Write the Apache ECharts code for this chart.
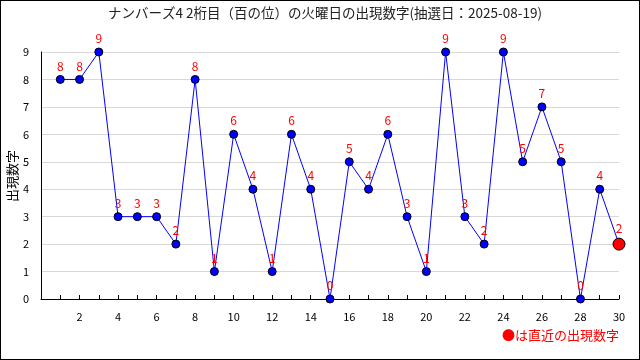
<!DOCTYPE html>
<html><head><meta charset="utf-8">
<script src="https://cdn.jsdelivr.net/npm/echarts@6/dist/echarts.min.js"></script>
<style>html,body{margin:0;padding:0;background:#fff}#c{width:640px;height:360px;box-sizing:border-box;border:1px solid #000}</style>
</head><body><div id="c"></div>
<script>
const titleText = 'ナンバーズ4 2桁目（百の位）の火曜日の出現数字(抽選日：2025-08-19)';
const yName = '出現数字';
const draws = [1,2,3,4,5,6,7,8,9,10,11,12,13,14,15,16,17,18,19,20,21,22,23,24,25,26,27,28,29,30];
const digits = [8,8,9,3,3,3,2,8,1,6,4,1,6,4,0,5,4,6,3,1,9,3,2,9,5,7,5,0,4,2];
const legendText = '●は直近の出現数字';

const font = '"Noto Sans CJK JP", "DejaVu Sans", sans-serif';
const data = draws.map((d, i) => {
  const last = i === draws.length - 1;
  return {
    value: [d, digits[i]],
    symbolSize: last ? 12 : 8,
    itemStyle: last ? {color: '#ff0000', borderColor: '#000', borderWidth: 1} : {color: '#0000ff', borderColor: '#000', borderWidth: 1}
  };
});
const chart = echarts.init(document.getElementById('c'), null, {renderer: 'canvas'});
chart.setOption({
  animation: false,
  title: {text: titleText, left: 319, top: 0, textAlign: 'center',
    textStyle: {fontFamily: font, fontSize: 13.5, fontWeight: 'normal', color: '#222'}},
  grid: {left: 40, right: 20, top: 51, bottom: 60, outerBoundsMode: 'none', containLabel: false},
  xAxis: {type: 'value', min: 0, max: 30, interval: 1,
    axisLine: {lineStyle: {color: '#000'}},
    axisTick: {inside: true, length: 4, lineStyle: {color: '#000'}},
    axisLabel: {fontFamily: font, fontSize: 11, color: '#000', margin: 12,
      formatter: v => (v > 0 && v % 2 === 0) ? String(v) : ''},
    splitLine: {show: false}},
  yAxis: {type: 'value', min: 0, max: 9, interval: 1,
    axisLine: {show: true, lineStyle: {color: '#000'}},
    axisTick: {show: false},
    axisLabel: {fontFamily: font, fontSize: 11, color: '#000', margin: 12},
    splitLine: {lineStyle: {color: '#d8d8d8'}}},
  series: [{type: 'line', data: data, symbol: 'circle',
    lineStyle: {color: '#0000ff', width: 1},
    label: {show: true, position: 'top', distance: 3, color: '#ff0000', fontFamily: font, fontSize: 12,
      formatter: p => String(p.value[1])},
    z: 3}],
  graphic: [
    {type: 'text', x: 11, y: 175, rotation: Math.PI / 2,
      style: {text: yName, fill: '#000', font: '13px ' + font, textAlign: 'center', textVerticalAlign: 'middle', verticalAlign: 'middle'}},
    {type: 'text', right: 20, top: 328,
      style: {text: legendText, fill: '#ff0000', font: '13px ' + font}}]
});
</script></body></html>
